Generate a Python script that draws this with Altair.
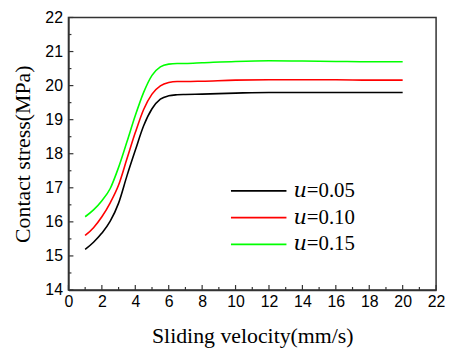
import altair as alt
import pandas as pd

# ---- data ----
velocity = [1, 1.5, 2, 2.5, 3, 3.5, 4, 4.5, 5, 5.5, 6, 6.5, 7, 8, 10, 12, 14, 16, 18, 20]
stress_u005 = [15.19, 15.40, 15.67, 16.02, 16.55, 17.35, 18.10, 18.82, 19.32, 19.60,
               19.70, 19.73, 19.74, 19.75, 19.78, 19.80, 19.80, 19.80, 19.80, 19.80]
stress_u010 = [15.60, 15.83, 16.15, 16.56, 17.08, 17.85, 18.62, 19.30, 19.75, 19.99,
               20.09, 20.12, 20.12, 20.13, 20.16, 20.17, 20.17, 20.17, 20.16, 20.16]
stress_u015 = [16.15, 16.35, 16.62, 16.98, 17.60, 18.35, 19.12, 19.80, 20.30, 20.55,
               20.63, 20.65, 20.65, 20.67, 20.71, 20.73, 20.72, 20.71, 20.70, 20.70]
series_labels = ["𝑢=0.05", "𝑢=0.10", "𝑢=0.15"]
series_colors = ["#000000", "#ff0000", "#00ff00"]

x_major = list(range(0, 23, 2))
x_minor = list(range(1, 22, 2))
y_major = list(range(14, 23))
y_minor = [14.5, 15.5, 16.5, 17.5, 18.5, 19.5, 20.5, 21.5]

W, H = 371, 275

rows = []
for lab, vals in zip(series_labels, [stress_u005, stress_u010, stress_u015]):
    for v, s in zip(velocity, vals):
        rows.append({"v": v, "s": s, "series": lab})
df = pd.DataFrame(rows)

xscale = alt.Scale(domain=[0, 22], nice=False, zero=False)
yscale = alt.Scale(domain=[14, 22], nice=False, zero=False)
xaxis = alt.Axis(title="Sliding velocity(mm/s)", values=x_major, ticks=False,
                 labelPadding=4, titlePadding=16)
yaxis = alt.Axis(title="Contact stress(MPa)", values=y_major, ticks=False,
                 labelPadding=6, titlePadding=11)

lines = alt.Chart(df).mark_line(strokeWidth=1.6, interpolate="monotone").encode(
    x=alt.X("v:Q", scale=xscale, axis=xaxis),
    y=alt.Y("s:Q", scale=yscale, axis=yaxis),
    color=alt.Color("series:N", sort=series_labels,
                    scale=alt.Scale(domain=series_labels, range=series_colors),
                    legend=alt.Legend(orient="none", legendX=191, legendY=160, title=None,
                                      symbolType="M-3,0L1,0", symbolSize=784,
                                      symbolStrokeWidth=1.6,
                                      labelFont="Liberation Serif, DejaVu Serif",
                                      labelFontSize=21,
                                      labelColor="black", labelOffset=6, rowPadding=2)),
)

def xticks(vals, length):
    d = pd.DataFrame({"v": vals})
    return alt.Chart(d).mark_rule(color="#333333", strokeWidth=1.2).encode(
        x=alt.X("v:Q", scale=xscale, axis=xaxis),
        y=alt.value(H), y2=alt.value(H - length))

def yticks(vals, length):
    d = pd.DataFrame({"s": vals})
    return alt.Chart(d).mark_rule(color="#333333", strokeWidth=1.2).encode(
        y=alt.Y("s:Q", scale=yscale, axis=yaxis),
        x=alt.value(0), x2=alt.value(length))

chart = alt.layer(
    lines, xticks(x_major, 5), xticks(x_minor, 3), yticks(y_major, 5), yticks(y_minor, 3)
).properties(
    width=W, height=H,
    autosize=alt.AutoSizeParams(type="none"),
    padding={"left": 61, "top": 8, "right": 10, "bottom": 60},
).configure(
    background="white"
).configure_view(
    stroke="#333333", strokeWidth=1.5
).configure_axis(
    labelFont="Liberation Sans", labelFontSize=16, labelColor="black",
    titleFont="Liberation Serif", titleFontSize=22, titleFontWeight="normal", titleColor="black",
    domainColor="#333333", domainWidth=1.5, grid=False, labelFlush=False, labelOverlap=False,
)

chart.save("out.html", embed_options={"renderer": "svg", "actions": False})
